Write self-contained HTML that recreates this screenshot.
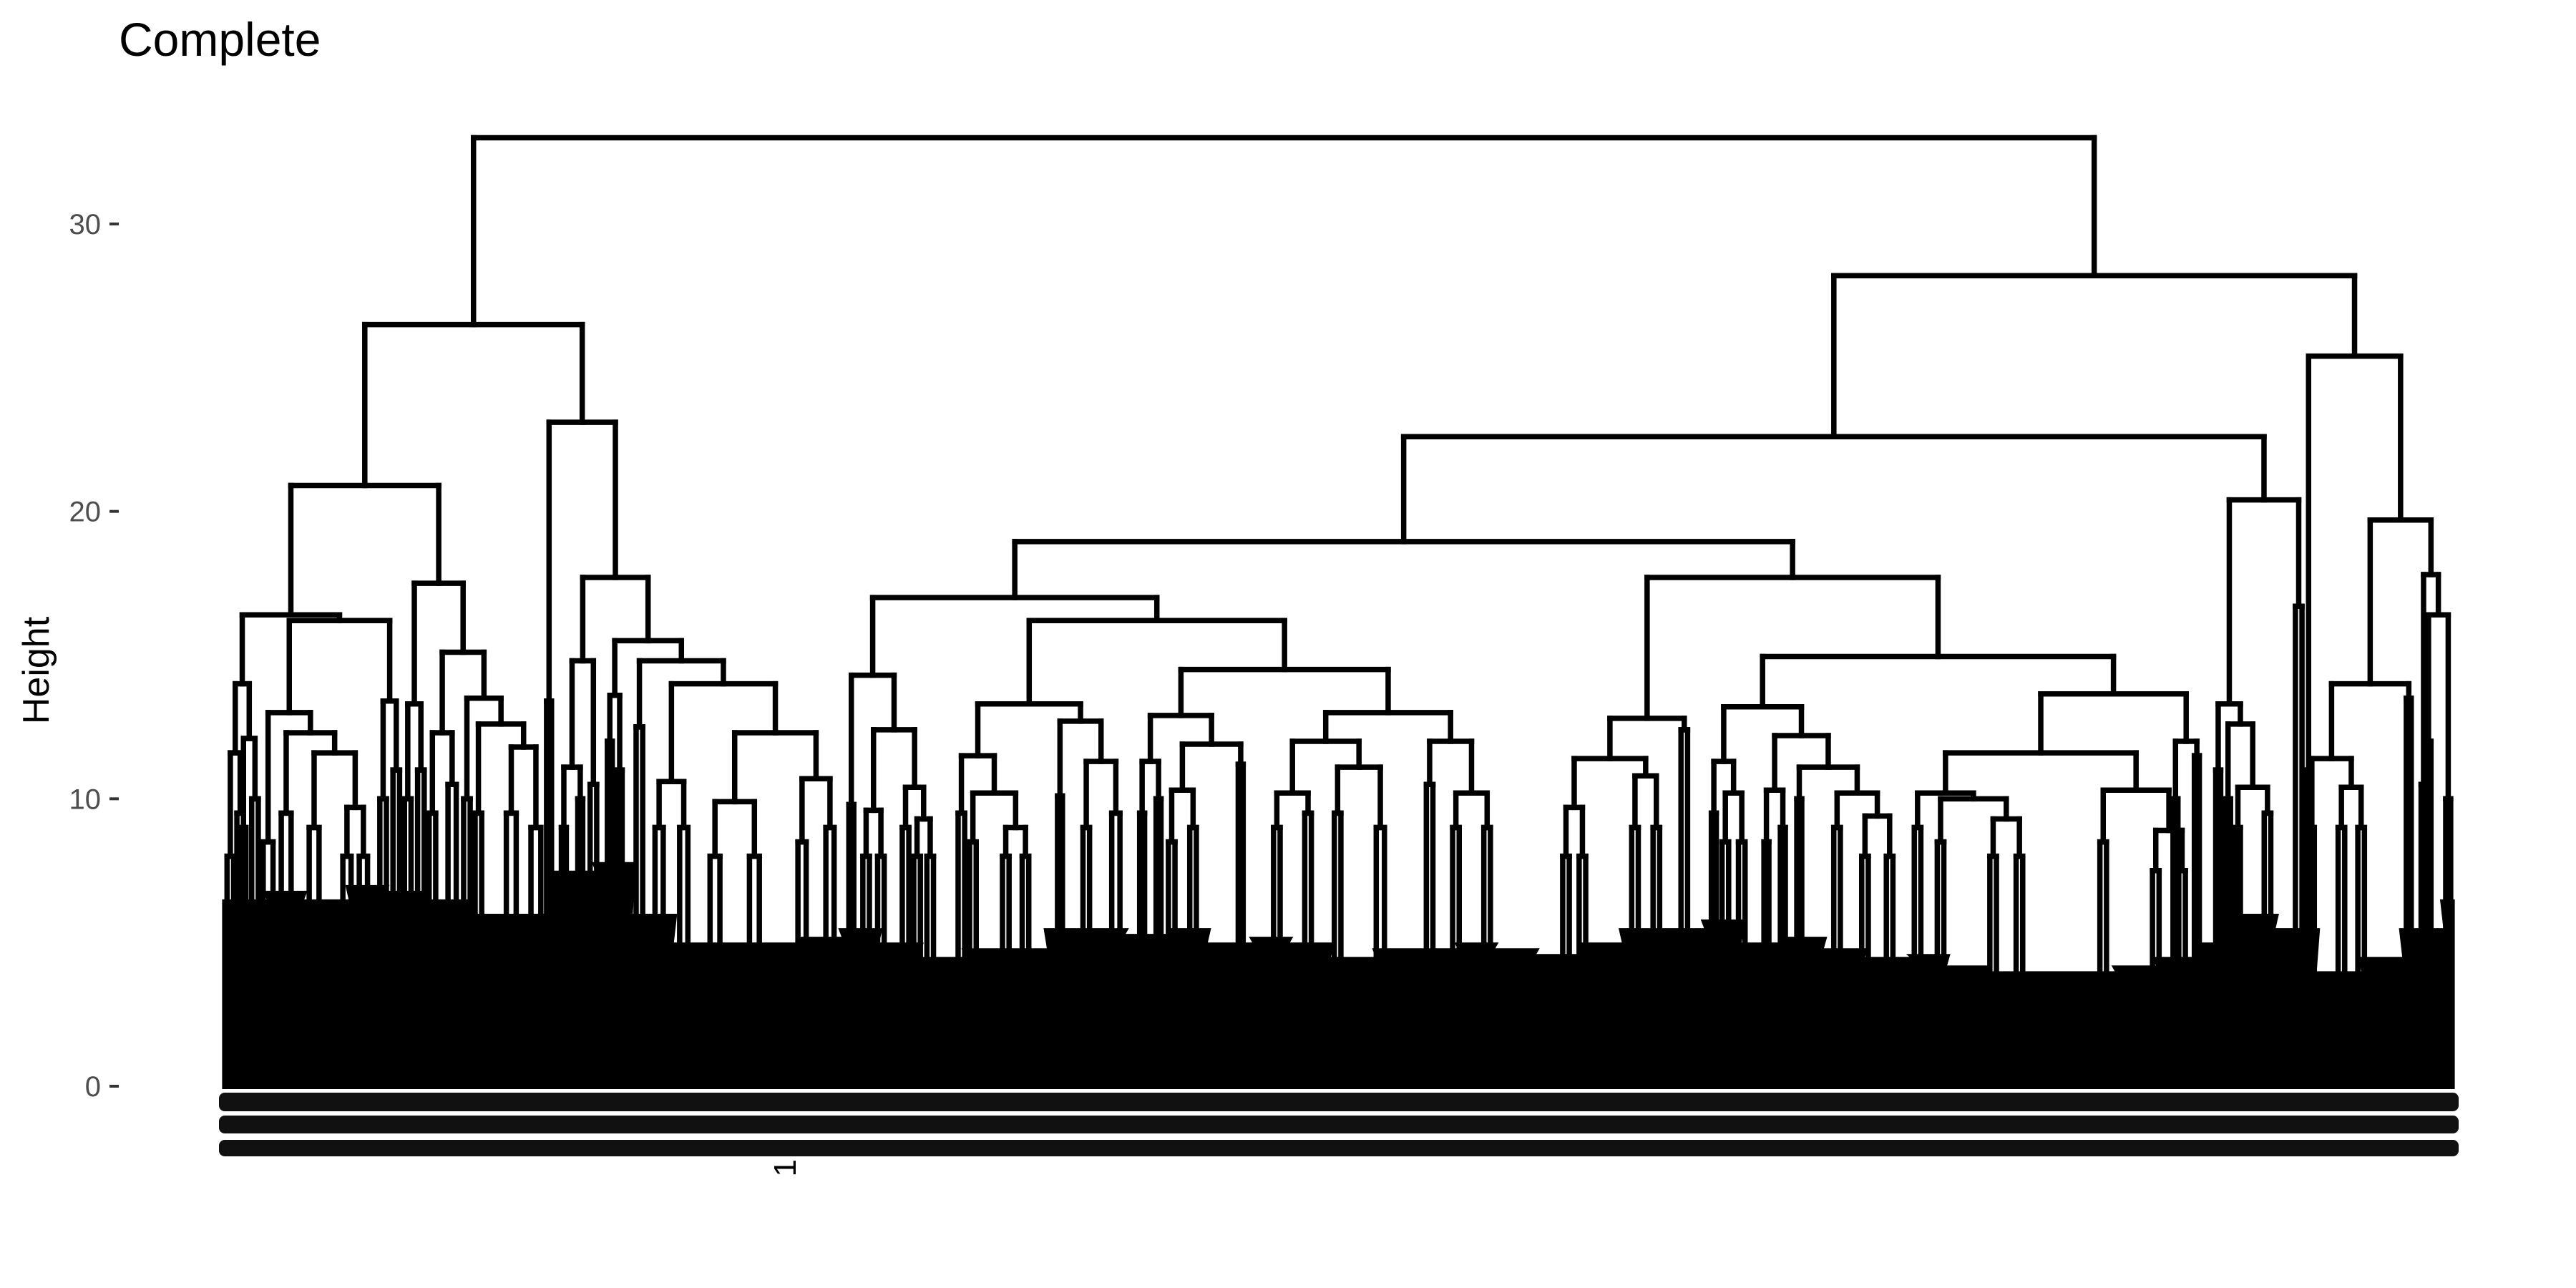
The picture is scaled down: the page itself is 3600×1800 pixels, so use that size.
<!DOCTYPE html>
<html><head><meta charset="utf-8"><style>
html,body{margin:0;padding:0;background:#fff;}
svg{display:block;}
text{font-family:"Liberation Sans",sans-serif;}
</style></head><body>
<svg id="chart" width="3600" height="1800" viewBox="0 0 3600 1800" xmlns="http://www.w3.org/2000/svg">
<rect width="3600" height="1800" fill="#fff"/>
<text x="166" y="78" font-size="66" fill="#000">Complete</text>
<text transform="translate(68,937) rotate(-90)" text-anchor="middle" font-size="52" fill="#000">Height</text>
<g id="axis"></g>
<g id="labels"></g>
<g id="marks"></g>
</svg>
<script>
// y ticks
const yTicks = [0, 10, 20, 30];
const yTickLabels = ["0", "10", "20", "30"];
// floor (dense leaf-level merges), heights sampled along leaf axis
const floorStart = 137;
const floorStep = 25;
const floorHeights = [6.5,6.8,6.5,7.0,6.8,6.5,6.0,6.0,7.5,7.8,6.0,5.0,5.0,5.0,5.2,5.5,5.0,4.5,4.8,4.8,5.5,5.5,5.3,5.5,5.0,5.2,5.0,4.5,4.8,4.8,5.0,4.8,4.6,5.0,5.5,5.5,5.8,5.0,5.2,4.8,4.5,4.6,4.2,4.0,4.0,4.0,4.2,4.5,5.0,6.0,5.5,4.0,4.5,5.5,6.5];
const leafMin = 137, leafMax = 1492;
// tree: N(height,left,right) internal merges; T(position,height,width) small clusters
function N(h,l,r){return {h:h,c:[l,r]};}
function T(x,h,w){return {x:x,h:h,w:w};}
const tree = N(33.0,
 N(26.5,
  N(20.9,
   N(16.4,
    N(14.0, N(11.6,T(140,8,4),T(146,9.5,4)), N(12.1,T(148,9,3),T(155,10,4))),
    N(16.2,
     N(13.0, T(163,8.5,6), N(12.3, T(174,9.5,6), N(11.6, T(191,9,6), N(9.7,T(211,8,5),T(221,8,5))))),
     N(13.4, T(233,10,4), T(241,11,4)))),
   N(17.5,
    N(13.3, T(248,10,4), T(256,11,4)),
    N(15.1, N(12.3,T(263,9.5,4),T(275,10.5,5)),
     N(13.5, T(284,10,4), N(12.6, T(291,9.5,4), N(11.8,T(311,9.5,6),T(326,9,6))))))),
  N(23.1,
   T(334,13.4,3),
   N(17.7,
    N(14.8, N(11.1,T(343,9,3),T(353,10,3)), T(361,10.5,4)),
    N(15.5, N(13.6,T(371,12,3),T(377,11,3)),
     N(14.8, T(389,12.5,4),
      N(14.0, N(10.6,T(401,9,5),T(416,9,5)),
       N(12.3, N(9.9,T(435,8,6),T(459,8,6)), N(10.7,T(488,8.5,5),T(505,9,5))))))))),
 N(28.2,
  N(22.6,
   N(18.95,
    N(17.0,
     N(14.3, T(518,9.8,3), N(12.4, N(9.6,T(527,8,4),T(536,8,4)), N(10.4,T(551,9,4),N(9.3,T(558,8,4),T(566,8,4))))),
     N(16.2,
      N(13.3,
       N(11.5, T(585,9.5,4), N(10.2, T(592,8.5,4), N(9.0,T(612,8,4),T(624,8,4)))),
       N(12.7, T(645,10.1,3), N(11.3,T(661,9,4),T(679,9.5,5)))),
      N(14.5,
       N(12.9, N(11.3,T(695,9.5,3),T(705,10,3)), N(11.9, N(10.3,T(713,8.5,4),T(726,9,4)), T(755,11.2,3))),
       N(13.0,
        N(12.0, N(10.2,T(777,9,4),T(796,9.5,4)), N(11.1,T(814,9.5,4),T(840,9,5))),
        N(12.0, T(870,10.5,4), N(10.2,T(886,9,4),T(905,9,4))))))),
    N(17.7,
     N(12.8, N(11.4, N(9.7,T(953,8,4),T(963,8,4)), N(10.8,T(995,9,4),T(1008,9,4))), T(1025,12.4,4)),
     N(14.95,
      N(13.2,
       N(11.3, T(1043,9.5,3), N(10.2,T(1050,8.5,4),T(1060,8.5,4))),
       N(12.2, N(10.3,T(1075,8.5,3),T(1085,9,3)), N(11.1, T(1095,10,3), N(10.2, T(1118,9,4), N(9.4,T(1135,8,4),T(1150,8,4)))))),
      N(13.65,
       N(11.6,
        N(10.2, T(1167,9,4), N(10.0, T(1181,8.5,4), N(9.3,T(1213,8,4),T(1229,8,4)))),
        N(10.3, T(1280,8.5,4), N(8.9,T(1312,7.5,4),T(1328,7.5,4)))),
       N(12.0, T(1324,10,3), T(1337,11.5,3)))))),
   N(20.4, N(13.3, T(1350,11,3), N(12.6, T(1356,10,3), N(10.4,T(1362,9,3),T(1380,9.5,4)))), T(1399,16.7,4))),
  N(25.4,
   T(1405,11,2),
   N(19.7,
    N(14.0, N(11.4, T(1407,9,3), N(10.4,T(1425,9,4),T(1437,9,4))), T(1466,13.5,3)),
    N(17.8, T(1475,10.5,3), N(16.4,T(1478,12,3),T(1490,10,3)))))));

const NS = "http://www.w3.org/2000/svg";
const X0 = 315, X1 = 3426, Y0 = 1518, Y30 = 313;
function xs(v){return X0 + (v - leafMin) * (X1 - X0) / (leafMax - leafMin);}
function ys(h){return Y0 - h * (Y0 - Y30) / 30;}
const SW = 7.5;
const marks = document.getElementById('marks');
function line(x1,y1,x2,y2,name){
  const l = document.createElementNS(NS,'line');
  l.setAttribute('x1',x1);l.setAttribute('y1',y1);l.setAttribute('x2',x2);l.setAttribute('y2',y2);
  l.setAttribute('stroke','#000');l.setAttribute('stroke-width',SW);l.setAttribute('stroke-linecap','square');
  
  
  marks.appendChild(l);
}
// floor
(function(){
  const base = ys(0) + 4;
  let d = 'M' + xs(leafMin - 2) + ',' + base;
  for (let i = 0; i < floorHeights.length; i++) {
    const a = floorStart + i * floorStep - 2;
    const b = Math.min(floorStart + (i + 1) * floorStep, leafMax + 2);
    d += ' L' + xs(a) + ',' + ys(floorHeights[i]) + ' L' + xs(b) + ',' + ys(floorHeights[i]);
  }
  d += ' L' + xs(leafMax + 2) + ',' + base + ' Z';
  const p = document.createElementNS(NS,'path');
  p.setAttribute('d', d); p.setAttribute('fill', '#000');
  
  
  marks.appendChild(p);
})();
function draw(n){
  if (n.c) {
    const a = draw(n.c[0]), b = draw(n.c[1]);
    line(xs(a.x), ys(a.h), xs(a.x), ys(n.h), 'branch');
    line(xs(b.x), ys(b.h), xs(b.x), ys(n.h), 'branch');
    line(xs(a.x), ys(n.h), xs(b.x), ys(n.h), 'merge-bar');
    return {x: (a.x + b.x) / 2, h: n.h};
  }
  const l = n.x - n.w / 2, r = n.x + n.w / 2;
  line(xs(l), ys(n.h), xs(r), ys(n.h), 'cluster-bar');
  line(xs(l), ys(n.h), xs(l), ys(0), 'cluster-branch');
  line(xs(r), ys(n.h), xs(r), ys(0), 'cluster-branch');
  return {x: n.x, h: n.h};
}
draw(tree);
// axis
const axis = document.getElementById('axis');
yTicks.forEach(function(t, i){
  const y = ys(t);
  const tk = document.createElementNS(NS,'line');
  tk.setAttribute('x1',153);tk.setAttribute('x2',166);tk.setAttribute('y1',y);tk.setAttribute('y2',y);
  tk.setAttribute('stroke','#333');tk.setAttribute('stroke-width',4);
  
  
  axis.appendChild(tk);
  const tx = document.createElementNS(NS,'text');
  tx.setAttribute('x',141);tx.setAttribute('y',y+14);tx.setAttribute('text-anchor','end');
  tx.setAttribute('font-size',40);tx.setAttribute('fill','#4d4d4d');
  tx.textContent = yTickLabels[i];
  
  
  axis.appendChild(tx);
});
// leaf label bands
const labels = document.getElementById('labels');
[[1527,26],[1559,25],[1593,23]].forEach(function(b){
  const r = document.createElementNS(NS,'rect');
  r.setAttribute('x',306);r.setAttribute('y',b[0]);r.setAttribute('width',3130);r.setAttribute('height',b[1]);
  r.setAttribute('fill','#111');r.setAttribute('rx',8);
  
  
  labels.appendChild(r);
});
const one = document.createElementNS(NS,'text');
one.setAttribute('transform','translate(1112,1620) rotate(-90)');
one.setAttribute('text-anchor','end');one.setAttribute('font-size',44);one.setAttribute('fill','#000');
one.textContent = '1';


labels.appendChild(one);
</script>
</body></html>
